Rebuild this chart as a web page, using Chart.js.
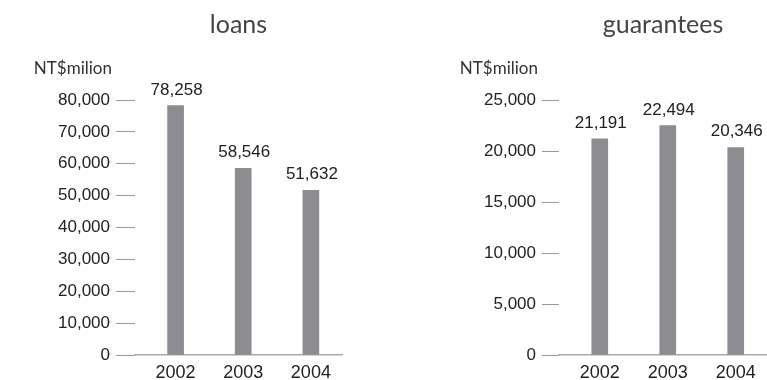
<!DOCTYPE html>
<html>
<head>
<meta charset="utf-8">
<script src="https://cdn.jsdelivr.net/npm/chart.js@4/dist/chart.umd.min.js"></script>
<style>
  html, body { margin: 0; padding: 0; background: #fff; }
  #wrap { position: relative; width: 767px; height: 380px; overflow: hidden; }
  canvas { position: absolute; top: 0; }
  #c1 { left: 0; }
  #c2 { left: 380px; }
</style>
</head>
<body>
<div id="wrap">
  <canvas id="c1" width="380" height="380"></canvas>
  <canvas id="c2" width="387" height="380"></canvas>
</div>
<script>
// ---- data ----
const years = [2002, 2003, 2004];
const loans = [78258, 58546, 51632];
const guarantees = [21191, 22494, 20346];
const loansTicksMax = 80000;
const loansStep = 10000;
const guaranteesTicksMax = 25000;
const guaranteesStep = 5000;
const unitLabel = 'NT$milion';
const titles = ['loans', 'guarantees'];

const BAR = '#8c8c91';
const TEXT = '#222';

const valueLabels = {
  id: 'valueLabels',
  afterDatasetsDraw(chart) {
    const ctx = chart.ctx;
    const meta = chart.getDatasetMeta(0);
    const ds = chart.data.datasets[0];
    ctx.save();
    ctx.font = '17px "Liberation Sans", Arial, sans-serif';
    ctx.fillStyle = TEXT;
    ctx.textAlign = 'center';
    ctx.textBaseline = 'alphabetic';
    meta.data.forEach((bar, i) => {
      const v = ds.data[i].y;
      ctx.fillText(v.toLocaleString('en-US'), bar.x + 1, bar.y - 11);
    });
    // unit label
    const y = chart.scales.y;
    ctx.font = '17px Lato, "Open Sans", sans-serif';
    ctx.fillStyle = '#333';
    ctx.textAlign = 'right';
    ctx.textBaseline = 'middle';
    ctx.fillText(unitLabel, chart.chartArea.left - y.options.grid.tickLength - 4, chart.chartArea.top - 31);
    ctx.restore();
  }
};

function makeChart(id, title, values, max, step, axisWidth, padRight, tickLen) {
  return new Chart(document.getElementById(id), {
    type: 'bar',
    data: {
      datasets: [{
        data: years.map((yr, i) => ({ x: yr, y: values[i] })),
        backgroundColor: BAR,
        borderWidth: 0,
        barThickness: 16
      }]
    },
    plugins: [valueLabels],
    options: {
      responsive: false,
      animation: false,
      devicePixelRatio: 1,
      locale: 'en-US',
      layout: { padding: { left: 0, right: padRight, top: 0, bottom: 0 } },
      plugins: {
        legend: { display: false },
        tooltip: { enabled: false },
        title: {
          display: true,
          text: title,
          fullSize: false,
          color: '#444',
          font: { family: 'Lato, "Open Sans", sans-serif', size: 25, weight: 'normal', lineHeight: 1.2 },
          padding: { top: 10, bottom: 60 }
        }
      },
      scales: {
        x: {
          type: 'linear',
          offset: false,
          min: 2001.4,
          max: 2004.46,
          grid: { display: false, drawTicks: false, offset: false },
          border: { display: true, color: '#a8a8a8', width: 1.5 },
          ticks: {
            stepSize: 1,
            includeBounds: false,
            padding: 7,
            color: TEXT,
            font: { family: '"Liberation Sans", Arial, sans-serif', size: 18 },
            callback: (v) => String(v)
          },
          afterFit: (s) => { s.height = 25; }
        },
        y: {
          min: 0,
          max: max,
          grid: { display: true, drawOnChartArea: false, drawTicks: true, tickLength: tickLen, color: '#9a9a9a', lineWidth: 1 },
          border: { display: false },
          ticks: {
            stepSize: step,
            padding: 6,
            color: TEXT,
            font: { family: '"Liberation Sans", Arial, sans-serif', size: 17 }
          },
          afterFit: (s) => { s.width = axisWidth; }
        }
      }
    }
  });
}

makeChart('c1', titles[0], loans, loansTicksMax, loansStep, 135, 38, 19);
makeChart('c2', titles[1], guarantees, guaranteesTicksMax, guaranteesStep, 179, 0, 17);
</script>
</body>
</html>
